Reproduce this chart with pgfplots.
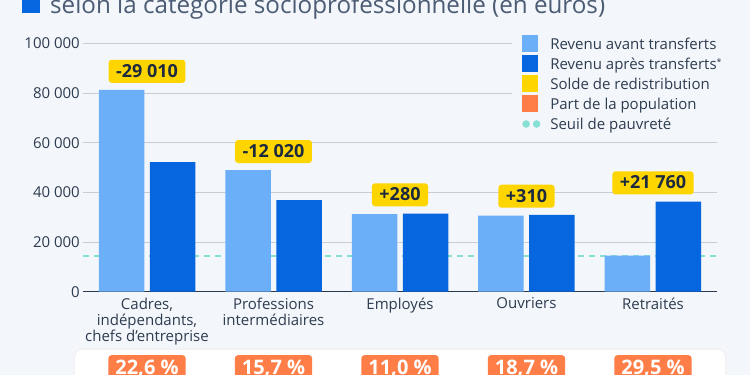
\documentclass[border=0pt]{standalone}
\usepackage{fontspec}
\setmainfont{Open Sans}
\usepackage{pgfplots}
\pgfplotsset{compat=1.18}
\definecolor{bg}{HTML}{F3F6FA}
\definecolor{lightbar}{HTML}{6AAFF8}
\definecolor{darkbar}{HTML}{0666E0}
\definecolor{yel}{HTML}{FFD500}
\definecolor{ora}{HTML}{FF7E47}
\definecolor{teal2}{HTML}{86DFD3}
\definecolor{txt}{HTML}{2E3C50}
\definecolor{navy}{HTML}{1B2A3E}
\definecolor{ttl}{HTML}{4B5C74}
\definecolor{gridc}{HTML}{C8CDD5}
\definecolor{axc}{HTML}{2B3A4F}
\begin{document}
\begin{tikzpicture}[x=1pt,y=1pt]
\useasboundingbox (0,0) rectangle (750,375);
\fill[bg] (0,0) rectangle (750,375);
% title (second line, cut at the top)
\fill[darkbar] (22,362) rectangle (40,382);
\node[anchor=base west, inner sep=0pt, text=ttl, font=\fontsize{24.2}{28}\selectfont] at (50,361.5) {selon la catégorie socioprofessionnelle (en euros)};
% bottom panel
\fill[black!5, rounded corners=8pt] (73.5,-20) rectangle (726.5,26.5);
\fill[white, rounded corners=8pt] (75,-20) rectangle (725,25);
\begin{axis}[
  scale only axis, width=634pt, height=248.4pt,
  at={(83pt,83.3pt)}, anchor=south west,
  xmin=-0.506, xmax=4.506, ymin=0, ymax=100000,
  clip=false,
  axis line style={draw=none},
  major tick length=0pt,
  ymajorgrids, grid style={gridc, line width=0.9pt},
  ytick={20000,40000,60000,80000,100000},
  yticklabels={20 000,40 000,60 000,80 000,100 000},
  extra y ticks={0},
  extra y tick labels={0},
  extra y tick style={grid style={axc, line width=1.3pt}},
  scaled y ticks=false,
  yticklabel style={font=\fontsize{15}{17}\selectfont, text=txt, inner sep=0pt, xshift=-3pt},
  xtick={0,1,2,3,4},
  xticklabels={{Cadres,\\indépendants,\\chefs d’entreprise},{Professions\\intermédiaires},Employés,Ouvriers,Retraités},
  xticklabel style={align=center, anchor=north, inner sep=0pt, yshift=-6pt, font=\fontsize{15}{16}\selectfont, text=txt},
  legend style={at={(0.677,1.0483)}, anchor=north west, fill=bg, draw=none,
    inner xsep=10pt, inner ysep=3pt, row sep=0pt,
    font=\fontsize{15}{17}\selectfont, text=txt,
    cells={anchor=base west},
    nodes={inner sep=0pt, text height=14.5pt, text depth=5.5pt},
    /tikz/every odd column/.style={column sep=10pt}},
]
\addlegendimage{legend image code/.code={\fill[lightbar] (0pt,-2pt) rectangle (15pt,13.5pt);}}
\addlegendentry{Revenu avant transferts}
\addlegendimage{legend image code/.code={\fill[darkbar] (0pt,-2pt) rectangle (15pt,13.5pt);}}
\addlegendentry{Revenu après transferts\raisebox{4pt}{\fontsize{9}{9}\selectfont *}}
\addlegendimage{legend image code/.code={\fill[yel] (0pt,-2pt) rectangle (15pt,13.5pt);}}
\addlegendentry{Solde de redistribution}
\addlegendimage{legend image code/.code={\fill[ora] (0pt,-2pt) rectangle (15pt,13.5pt);}}
\addlegendentry{Part de la population}
\addlegendimage{legend image code/.code={\fill[teal2] (3.5pt,5pt) circle (3.5pt) (14pt,5pt) circle (3.5pt);}}
\addlegendentry{Seuil de pauvreté}

% poverty line
\addplot[teal2, line width=2pt, dash pattern=on 6pt off 5pt, forget plot] coordinates {(-0.506,14500) (4.506,14500)};
% bars
\addplot[ybar, bar width=45.5pt, bar shift=-25.5pt, fill=lightbar, draw=none, forget plot]
  coordinates {(0,81200) (1,48900) (2,31200) (3,30600) (4,14500)};
\addplot[ybar, bar width=45.5pt, bar shift=25.5pt, fill=darkbar, draw=none, forget plot]
  coordinates {(0,52190) (1,36880) (2,31480) (3,30910) (4,36260)};
% redistribution balance labels
\addplot[draw=none, mark=none, forget plot, point meta=explicit symbolic,
  nodes near coords={\pgfplotspointmeta},
  every node near coord/.append style={anchor=south, yshift=7pt, fill=yel, rounded corners=3pt,
    text=navy, font=\bfseries\fontsize{18}{20}\selectfont, inner xsep=7.5pt, inner ysep=0pt,
    text height=17.5pt, text depth=5.5pt}]
  coordinates {(0,81200)[-29 010] (1,48900)[-12 020] (2,31480)[+280] (3,30910)[+310] (4,36260)[+21 760]};
% population shares
\addplot[draw=none, mark=none, forget plot, point meta=explicit symbolic,
  nodes near coords={\pgfplotspointmeta},
  every node near coord/.append style={anchor=north, yshift=-63.3pt, fill=ora, rounded corners=3pt,
    text=white, font=\bfseries\fontsize{20}{22}\selectfont, inner xsep=7pt, inner ysep=0pt,
    text height=19.3pt, text depth=8pt}]
  coordinates {(0,0)[22,6 \%] (1,0)[15,7 \%] (2,0)[11,0 \%] (3,0)[18,7 \%] (4,0)[29,5 \%]};
\end{axis}
\end{tikzpicture}
\end{document}
